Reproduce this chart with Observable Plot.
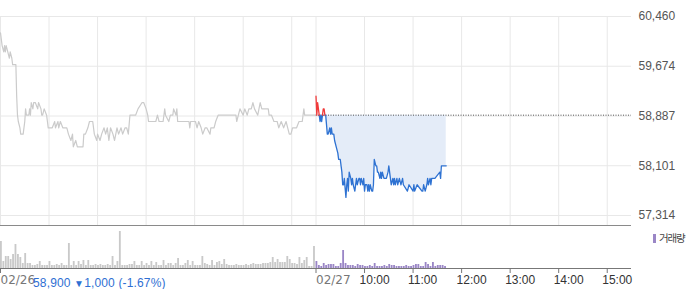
<!DOCTYPE html>
<html><head><meta charset="utf-8">
<script src="https://cdn.jsdelivr.net/npm/d3@7"></script>
<script src="https://cdn.jsdelivr.net/npm/@observablehq/plot@0.6"></script>
<style>
html,body{margin:0;padding:0;background:#fff;}
#wrap{position:relative;width:700px;height:289px;font-family:"Liberation Sans",Arial,sans-serif;overflow:hidden;}
#wrap svg{display:block;}
#status{position:absolute;left:33px;top:276px;font-size:12px;line-height:14px;color:#2f6fd3;white-space:nowrap;letter-spacing:0.15px;}
#status .tri{font-size:10px;vertical-align:0px;}
#legend{position:absolute;left:653px;top:232px;height:12px;font-size:10.5px;line-height:12px;color:#444;font-family:"Noto Sans CJK KR",sans-serif;letter-spacing:-1.2px;white-space:nowrap;}
#legend i{display:inline-block;width:3px;height:9px;background:#9a86c6;margin-right:3px;vertical-align:-1px;}
</style></head><body><div id="wrap"></div>
<script>
// ---- data ----
const dates = ["02/26", "02/27"];
const hourLabels = ["10:00", "11:00", "12:00", "13:00", "14:00", "15:00"];
const sessionMinutes = 390;               // 09:00 - 15:30
const baseline = 58900;                   // reference (dotted) level
const yTicks = [57314, 58101, 58887, 59674, 60460];
const yExtent = [57156, 60713];           // price panel value extent

// day 1 (02/26): minutes since 09:00, price
const day1Min = [0,2,4,5,6,7,9,11,12,14,15,19,20,21,22,24,25,28,30,31,32,35,36,37,38,40,41,43,46,47,50,51,52,54,57,58,59,64,67,68,71,72,74,77,82,84,87,89,90,93,95,102,103,105,108,110,114,116,119,120,123,125,128,130,132,134,136,139,141,144,146,149,151,154,156,158,160,167,170,175,177,180,182,183,192,194,196,201,203,204,208,210,213,214,217,218,219,233,234,235,241,243,245,248,250,253,255,259,260,264,266,269,271,291,292,296,300,302,305,307,310,312,314,318,321,323,331,332,335,338,342,344,347,350,353,355,357,359,361,366,369,373,374,375,376,389];
const day1Price = [60200,60000,59900,60000,59900,60000,59900,59800,59900,59800,59700,59700,59200,58900,58800,58700,58600,58600,58800,59000,58900,58900,59000,58900,59100,59000,59100,59100,59000,59100,59000,58900,58900,59000,58900,58800,58700,58700,58800,58700,58800,58700,58800,58700,58700,58600,58500,58600,58400,58500,58400,58400,58600,58600,58700,58800,58800,58600,58500,58600,58500,58600,58700,58600,58700,58500,58700,58600,58500,58700,58600,58700,58600,58700,58700,58600,58900,58900,59000,59100,59100,59000,58900,58800,58800,58900,58800,58800,59000,58900,58800,58900,58900,59000,58900,59000,58800,58800,58700,58800,58800,58700,58800,58700,58600,58700,58700,58600,58700,58700,58800,58900,58900,58900,58800,59000,58900,59000,58900,59000,59000,59100,59000,58900,59100,59000,59000,58900,58900,58800,58800,58700,58800,58700,58800,58700,58600,58600,58700,58700,58800,58800,58900,59000,58900,58900];

// day 2 (02/27): minutes since 09:00, price
const day2Min = [0,1,2,4,5,6,7,9,10,11,12,14,15,17,18,19,20,22,23,25,27,28,30,32,33,34,35,37,38,39,40,41,43,44,45,46,48,49,50,51,53,54,55,56,58,59,60,61,63,64,65,66,67,69,70,71,72,74,75,76,77,79,80,81,82,84,87,89,90,91,92,93,95,96,97,98,100,101,103,105,107,108,113,115,120,121,122,125,131,132,133,135,137,138,139,141,142,143,147,153,154,155,161];
const day2Price = [59200,58900,59100,58900,58800,58900,58800,59000,59000,58900,58900,58600,58600,58700,58600,58700,58600,58600,58500,58400,58300,58200,58200,58000,57800,57800,57900,57600,57800,57900,57700,58000,57900,57800,57900,57800,57700,57800,57900,57800,57900,57900,57800,57900,57800,57900,57700,57800,57800,57700,57800,57700,57800,57700,57700,57800,58200,58100,58100,58000,58000,57900,58000,57900,58000,57900,57900,58000,58100,58000,57900,57800,57900,57800,57900,57800,57900,57800,57900,57800,57900,57800,57700,57800,57700,57800,57700,57800,57700,57700,57800,57700,57800,57900,57800,57900,57800,57900,57900,58000,57900,58100,58100];

// volume, 3-minute buckets (thousand shares)
const volBucket = 3;
const day1Vol = [27,7,12,12,9,14,24,14,11,5,15,5,5,3,3,4,7,3,3,3,7,3,3,4,3,5,3,3,25,3,7,3,7,4,8,3,8,3,3,4,3,4,3,3,4,3,12,3,7,37,3,3,3,4,4,7,3,3,7,3,5,3,7,3,6,3,3,8,3,5,5,3,5,10,3,3,5,8,3,7,3,3,3,12,5,4,3,8,3,6,7,4,9,4,3,3,3,4,3,3,3,4,3,4,5,4,4,4,5,5,5,6,11,6,9,6,6,6,12,9,5,5,4,11,5,8,11,2,2,22];
const day2Vol = [7,3,2,5,3,4,4,4,2,2,5,18,5,3,3,3,2,4,3,3,2,2,3,2,5,2,2,2,3,2,4,3,3,2,2,2,2,3,2,2,3,4,4,2,2,6,4,2,6,2,3,3,3,2];

const statusText = {price: "58,900", change: "1,000", pct: "(-1.67%)"};
const legendLabel = "거래량";

// ---- derived tables ----
const d1 = day1Min.map((m, i) => ({x: m, price: day1Price[i]}));
const d2 = day2Min.map((m, i) => ({x: sessionMinutes + m, price: day2Price[i]}));
const vol = [
  ...day1Vol.map((v, i) => ({x1: i * volBucket, x2: (i + 1) * volBucket, v, day: 0})),
  ...day2Vol.map((v, i) => ({x1: sessionMinutes + i * volBucket, x2: sessionMinutes + (i + 1) * volBucket, v, day: 1}))
];
const xDomain = [0, 2 * sessionMinutes];
const gridX = [0, 60, 120, 180, 240, 300, 360, 390, 450, 510, 570, 630, 690, 750];
const tickX = [0, 390, 450, 510, 570, 630, 690, 750];
const labelData = [
  {x: 0, t: dates[0], kind: "date"},
  {x: sessionMinutes, t: dates[1], kind: "date"},
  ...hourLabels.map((t, i) => ({x: sessionMinutes + 60 * (i + 1), t, kind: "time"}))
];

// split day 2 into red (above baseline) / blue (at or below) runs
function splitRuns(pts, base) {
  const out = {red: [], blue: []};
  let run = null, id = 0;
  const add = (p, q) => {
    const color = Math.max(p.price, q.price) > base ? "red" : "blue";
    if (!run || run.color !== color) {
      run = {color, id: id++};
      out[color].push({...p, id: run.id});
    }
    out[color].push({...q, id: run.id});
  };
  for (let i = 0; i < pts.length - 1; i++) {
    const a = pts[i], b = pts[i + 1];
    if ((a.price - base) * (b.price - base) < 0) {
      const t = (base - a.price) / (b.price - a.price);
      const m = {x: a.x + t * (b.x - a.x), price: base};
      add(a, m); add(m, b);
    } else add(a, b);
  }
  return out;
}
const runs = splitRuns(d2, baseline);

const font = {fontFamily: "'Liberation Sans', Arial, sans-serif", fontSize: "12px", background: "#fff", overflow: "visible"};

const pricePlot = Plot.plot({
  width: 700, height: 226,
  marginLeft: 0, marginRight: 69, marginTop: 0, marginBottom: 1,
  style: font,
  x: {domain: xDomain, axis: null},
  y: {domain: yExtent},
  marks: [
    Plot.ruleY(yTicks, {stroke: "#e8e8e8"}),
    Plot.ruleX(gridX, {y1: yTicks[yTicks.length - 1], y2: yExtent[0], stroke: "#e8e8e8"}),
    Plot.areaY(d2, {x: "x", y1: baseline, y2: d => Math.min(d.price, baseline), fill: "#e4ecf8", curve: "linear"}),
    Plot.ruleY([baseline], {x1: sessionMinutes, x2: xDomain[1], stroke: "#555", strokeDasharray: "1,1.5"}),
    Plot.line(d1, {x: "x", y: "price", stroke: "#cbcbcb", strokeWidth: 1.2}),
    Plot.line(runs.blue, {x: "x", y: "price", z: "id", stroke: "#2e72d2", strokeWidth: 1.3, strokeLinejoin: "round", strokeLinecap: "round"}),
    Plot.line(runs.red, {x: "x", y: "price", z: "id", stroke: "#f03a3a", strokeWidth: 1.3, strokeLinejoin: "round", strokeLinecap: "round"}),
    Plot.ruleY([yExtent[0]], {stroke: "#8a8a8a"}),
    Plot.axisY(yTicks, {anchor: "right", tickSize: 0, tickPadding: 7, tickFormat: d3.format(","), fill: "#555", fontSize: 12, label: null})
  ]
});

const volPlot = Plot.plot({
  width: 700, height: 63,
  marginLeft: 0, marginRight: 69, marginTop: 0, marginBottom: 21,
  style: font,
  x: {domain: xDomain},
  y: {domain: [0, 42], axis: null},
  marks: [
    Plot.rectY(vol.filter(d => d.day === 0), {x1: "x1", x2: "x2", y: "v", fill: "#c9c9c9", insetRight: 0.6}),
    Plot.rectY(vol.filter(d => d.day === 1), {x1: "x1", x2: "x2", y: "v", fill: "#9a86c6", insetRight: 0.6}),
    Plot.ruleY([0], {stroke: "#777"}),
    Plot.axisX(tickX, {tickSize: 5, tickFormat: () => "", stroke: "#777", label: null}),
    Plot.text(labelData.filter(d => d.kind === "date"), {x: "x", text: "t", frameAnchor: "bottom", dy: 15, textAnchor: "start", fill: "#777", fontSize: 12, fontFamily: "'DejaVu Sans', sans-serif"}),
    Plot.text(labelData.filter(d => d.kind === "time"), {x: "x", text: "t", frameAnchor: "bottom", dy: 15, dx: -5, textAnchor: "start", fill: "#333", fontSize: 12})
  ]
});

const wrap = document.getElementById("wrap");
wrap.append(pricePlot, volPlot);
const status = document.createElement("div");
status.id = "status";
status.innerHTML = `${statusText.price} <span class="tri">▼</span>${statusText.change} ${statusText.pct}`;
wrap.append(status);
const legend = document.createElement("div");
legend.id = "legend";
legend.innerHTML = `<i></i>${legendLabel}`;
wrap.append(legend);
</script>
</body></html>
